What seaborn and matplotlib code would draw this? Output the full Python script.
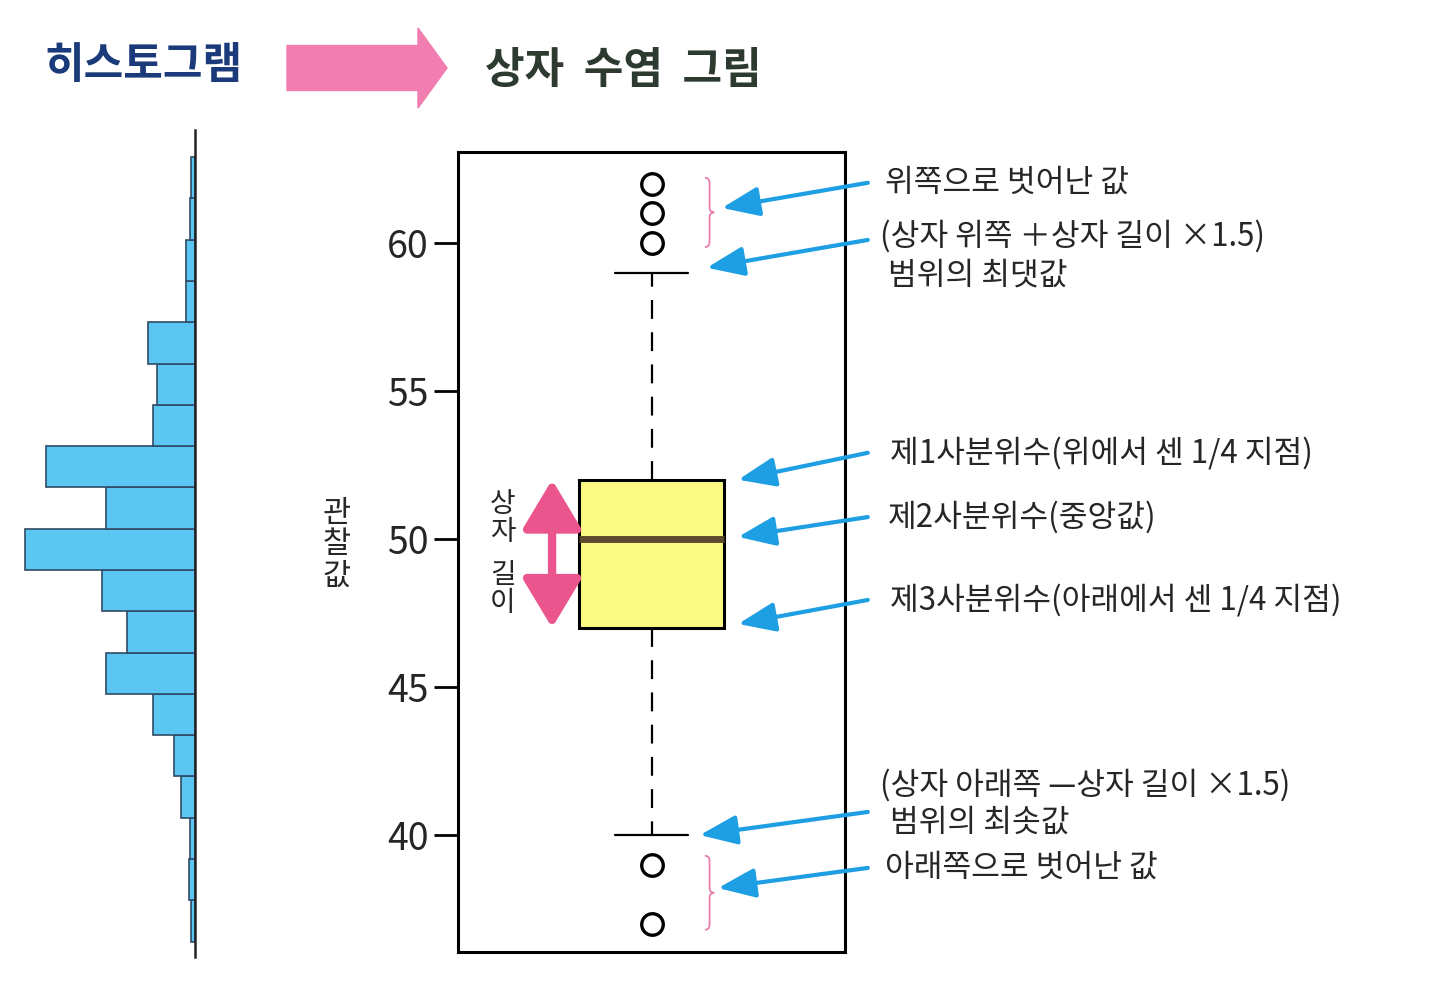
import numpy as np
import pandas as pd
import matplotlib
matplotlib.use("Agg")
import matplotlib.pyplot as plt
import matplotlib.transforms as mtransforms
from matplotlib.patches import FancyArrow, PathPatch
from matplotlib.path import Path
import seaborn as sns

# ─── DATA ─────────────────────────────────────────────────────────────────────
# observations behind the box plot (Q1=47, median=50, Q3=52, whiskers 40..59)
observations = [37, 39, 40, 45, 47, 48, 49, 50, 50, 51, 51, 52, 52, 59, 60, 61, 62]

# histogram counts, bottom bin first
hist_counts = [1, 1.4, 1.2, 3.3, 5, 10, 21, 16, 22, 40, 21, 35, 10, 9, 11, 2.1, 2.1, 1.2, 1]
hist_bin_start = 36.4
hist_bin_width = 1.395

y_ticks = [40, 45, 50, 55, 60]

notes = [
    # text, text y, arrow head x (axes frac), arrow head y, text x (axes frac)
    ("위쪽으로 벗어난 값", 62.03, 0.682, 61.18, 1.103),
    ("(상자 위쪽 ＋상자 길이 ×1.5)", 60.24, None, None, 1.090),
    ("범위의 최댓값", 58.89, None, None, 1.111),
    ("제1사분위수(위에서 센 1/4 지점)", 52.91, 0.724, 52.0, 1.116),
    ("제2사분위수(중앙값)", 50.74, 0.724, 50.07, 1.111),
    ("제3사분위수(아래에서 센 1/4 지점)", 47.94, 0.724, 47.13, 1.116),
    ("(상자 아래쪽 —상자 길이 ×1.5)", 41.69, None, None, 1.090),
    ("범위의 최솟값", 40.41, None, None, 1.116),
    ("아래쪽으로 벗어난 값", 38.89, 0.672, 38.21, 1.103),
]
# arrows that point to whisker ends (tail y, head x, head y)
whisker_arrows = [(60.10, 0.643, 59.16), (40.78, 0.625, 40.0)]

# ─── STYLE ────────────────────────────────────────────────────────────────────
sns.set_theme(style="white")
plt.rcParams["font.family"] = ["Noto Sans CJK KR", "DejaVu Sans"]

BLUE = "#1E9FE3"
PINK = "#E9558C"
PINK_LIGHT = "#F27DB0"
YELLOW = "#FAFA82"
HIST = "#5CC6F2"
TXT = "#262626"

fig = plt.figure(figsize=(14.3, 10), dpi=100)
fig.patch.set_facecolor("white")

# ─── HISTOGRAM (left) ─────────────────────────────────────────────────────────
ax_h = fig.add_axes([0.0, 0.043, 0.1364, 0.827])
edges = [hist_bin_start + hist_bin_width * i for i in range(len(hist_counts) + 1)]
hist_df = pd.DataFrame({
    "value": [(a + b) / 2 for a, b in zip(edges[:-1], edges[1:])],
    "count": hist_counts,
})
sns.histplot(data=hist_df, y="value", weights="count", bins=edges, ax=ax_h,
             color=HIST, alpha=1, edgecolor="#2f4a66", linewidth=1.2)
ax_h.set_xlim(45.9, 0)
ax_h.set_ylim(35.88, 63.82)
ax_h.set_xticks([])
ax_h.set_yticks([])
ax_h.set_xlabel("")
ax_h.set_ylabel("")
for s in ["left", "top", "bottom"]:
    ax_h.spines[s].set_visible(False)
ax_h.spines["right"].set_color("#222222")
ax_h.spines["right"].set_linewidth(1.8)
ax_h.set_facecolor("none")

# ─── BOX PLOT ─────────────────────────────────────────────────────────────────
ax = fig.add_axes([0.3203, 0.048, 0.2706, 0.8])
sns.boxplot(y=observations, ax=ax, width=0.375, whis=1.5, saturation=1,
            color=YELLOW, linecolor="black", linewidth=2,
            boxprops=dict(linewidth=2.2),
            whiskerprops=dict(linewidth=1.6, linestyle=(0, (8.5, 6))),
            capprops=dict(linewidth=1.6),
            medianprops=dict(color="#5e4a2e", linewidth=5),
            flierprops=dict(marker="o", markersize=15.5, markerfacecolor="white",
                            markeredgecolor="black", markeredgewidth=2.4))
ax.set_xlim(-0.5, 0.5)
ax.set_ylim(36.05, 63.07)
ax.set_yticks(y_ticks)
ax.set_xticks([])
ax.set_xlabel("")
ax.set_ylabel("")
for s in ax.spines.values():
    s.set_visible(True)
    s.set_color("black")
    s.set_linewidth(2.2)
ax.tick_params(axis="y", left=True, length=17, width=2, color="black",
               labelsize=27, labelcolor=TXT, pad=4, direction="out")
ax.grid(False)

blend = mtransforms.blended_transform_factory(ax.transAxes, ax.transData)

# y label, stacked vertically
ax.text(-0.313, 49.8, "관\n찰\n값", transform=blend, ha="center", va="center",
        fontsize=22, color=TXT, linespacing=1.0)

# box length label and double arrow
ax.text(0.116, 50.72, "상\n자", transform=blend, ha="center", va="center",
        fontsize=20, color=TXT, linespacing=0.92)
ax.text(0.116, 48.3, "길\n이", transform=blend, ha="center", va="center",
        fontsize=20, color=TXT, linespacing=0.92)
ax.annotate("", xy=(0.243, 52.0), xytext=(0.243, 47.0),
            xycoords=blend, textcoords=blend,
            arrowprops=dict(arrowstyle="<|-|>,head_length=2.5,head_width=1.5",
                            color=PINK, lw=6, shrinkA=0, shrinkB=0))

# pink braces next to the outliers
def brace(y_top, y_bot, x0=0.638, d=0.012, r=0.18):
    ym = (y_top + y_bot) / 2
    verts = [(x0, y_top), (x0 + d, y_top), (x0 + d, y_top - r),
             (x0 + d, ym + r), (x0 + d, ym), (x0 + 2 * d, ym),
             (x0 + d, ym), (x0 + d, ym - r),
             (x0 + d, y_bot + r), (x0 + d, y_bot), (x0, y_bot)]
    codes = [Path.MOVETO, Path.CURVE3, Path.CURVE3,
             Path.LINETO, Path.CURVE3, Path.CURVE3,
             Path.CURVE3, Path.CURVE3,
             Path.LINETO, Path.CURVE3, Path.CURVE3]
    ax.add_patch(PathPatch(Path(verts, codes), transform=blend, fill=False,
                           edgecolor="#E77FAA", lw=1.3, clip_on=False))

brace(62.2, 59.86)
brace(39.3, 36.8)

# annotations on the right
arrow_kw = dict(arrowstyle="-|>,head_length=1.9,head_width=0.75",
                color=BLUE, lw=3, shrinkA=0, shrinkB=0)
for text, ty, hx, hy, tx in notes:
    ax.text(tx, ty, text, transform=blend, ha="left", va="center",
            fontsize=22.5, color=TXT, clip_on=False)
    if hx is not None:
        ax.annotate("", xy=(hx, hy), xytext=(1.059, ty),
                    xycoords=blend, textcoords=blend,
                    arrowprops=arrow_kw, annotation_clip=False)
for ty, hx, hy in whisker_arrows:
    ax.annotate("", xy=(hx, hy), xytext=(1.059, ty),
                xycoords=blend, textcoords=blend,
                arrowprops=arrow_kw, annotation_clip=False)

# ─── HEADER ───────────────────────────────────────────────────────────────────
fig.text(0.031, 0.935, "히스토그램", ha="left", va="center", fontsize=31,
         fontweight="bold", color="#1B3A7A")
fig.text(0.339, 0.930, "상자  수염  그림", ha="left", va="center", fontsize=31,
         fontweight="bold", color="#2C3A30")
fig.add_artist(FancyArrow(0.2007, 0.932, 0.1119, 0, width=0.045,
                          head_width=0.08, head_length=0.0203,
                          length_includes_head=True, color=PINK_LIGHT,
                          transform=fig.transFigure))

fig.savefig("out.png", dpi=100, facecolor="white")
